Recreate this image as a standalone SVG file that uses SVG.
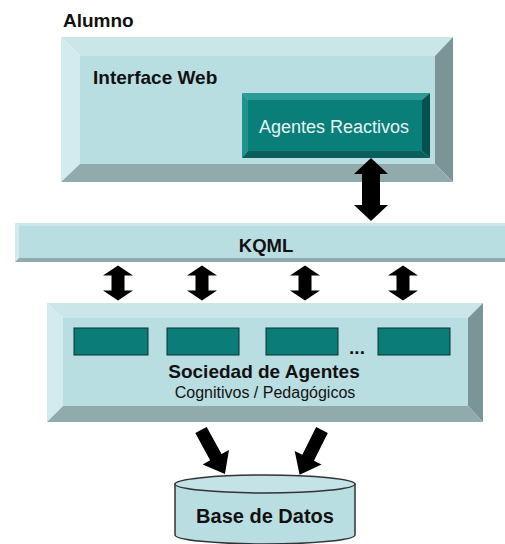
<svg xmlns="http://www.w3.org/2000/svg" xmlns:xlink="http://www.w3.org/1999/xlink" width="505" height="544" viewBox="0 0 505 544">
  <style>
    .face { fill: #b9dee2; }
    .bev-top { fill: #cbe6e9; }
    .bev-left { fill: #d3ebee; }
    .bev-right { fill: #7a9497; }
    .bev-bottom { fill: #91aaac; }
    .t-face { fill: #0a7f7a; }
    .t-top { fill: #2a9b95; }
    .t-left { fill: #1f938e; }
    .t-right { fill: #06514e; }
    .t-bottom { fill: #0a5f5c; }
    .agent { fill: #0b7c77; stroke: #0a3331; stroke-width: 1; }
    .lbl { font-family: "Liberation Sans", Arial, sans-serif; fill: #111; }
    .b { font-weight: bold; }
    .arrow { fill: #000; }
  </style>
  <defs>
    <path id="dbl" d="M0,-17.5 L15,-7.5 L6.5,-7.5 L6.5,7.5 L15,7.5 L0,17.5 L-15,7.5 L-6.5,7.5 L-6.5,-7.5 L-15,-7.5 Z"/>
    <path id="single" d="M-6.5,0 L6.5,0 L6.5,31 L15,31 L0,50 L-15,31 L-6.5,31 Z"/>
  </defs>

  <text class="lbl b" x="63" y="27" font-size="19">Alumno</text>

  <!-- Web interface block -->
  <g id="interface-web">
    <rect class="face" x="80" y="56" width="355" height="108"/>
    <polygon class="bev-top" points="61,37 453,37 435,56 80,56"/>
    <polygon class="bev-left" points="61,37 80,56 80,164 61,182"/>
    <polygon class="bev-right" points="453,37 453,182 435,164 435,56"/>
    <polygon class="bev-bottom" points="61,182 453,182 435,164 80,164"/>
    <text class="lbl b" x="93" y="84" font-size="19">Interface Web</text>
  </g>

  <g id="agentes-reactivos">
    <rect class="t-face" x="248" y="100" width="174" height="51"/>
    <polygon class="t-top" points="242,93 430,93 422,100 248,100"/>
    <polygon class="t-left" points="242,93 248,100 248,151 242,158"/>
    <polygon class="t-right" points="430,93 430,158 422,151 422,100"/>
    <polygon class="t-bottom" points="242,158 430,158 422,151 248,151"/>
    <text x="334" y="133" font-size="18" text-anchor="middle" font-family="Liberation Sans, Arial, sans-serif" fill="#e4f3f2">Agentes Reactivos</text>
  </g>

  <!-- KQML bus -->
  <g id="kqml">
    <rect class="face" x="19" y="226" width="486" height="32"/>
    <polygon class="bev-top" points="15,223 505,223 505,226 19,226"/>
    <polygon class="bev-left" points="15,223 19,226 19,258 15,262"/>
    <polygon class="bev-bottom" points="15,262 505,262 505,258 19,258"/>
    <text class="lbl b" x="266" y="252" font-size="18.5" text-anchor="middle">KQML</text>
  </g>

  <!-- Agent society block -->
  <g id="sociedad-agentes">
    <rect class="face" x="63" y="318" width="405" height="88"/>
    <polygon class="bev-top" points="47,303 483,303 468,318 63,318"/>
    <polygon class="bev-left" points="47,303 63,318 63,406 47,422"/>
    <polygon class="bev-right" points="483,303 483,422 468,406 468,318"/>
    <polygon class="bev-bottom" points="47,422 483,422 468,406 63,406"/>
    <rect class="agent" x="74" y="328" width="74" height="27"/>
    <rect class="agent" x="167" y="328" width="72" height="27"/>
    <rect class="agent" x="266" y="328" width="72" height="27"/>
    <rect class="agent" x="378" y="328" width="72" height="27"/>
    <text class="lbl b" x="357" y="354" font-size="19" text-anchor="middle">...</text>
    <text class="lbl b" x="264" y="378" font-size="19" text-anchor="middle">Sociedad de Agentes</text>
    <text class="lbl" x="265" y="398" font-size="16" text-anchor="middle">Cognitivos / Pedagógicos</text>
  </g>

  <!-- Database -->
  <g id="base-datos">
    <path d="M175,484 L175,535 A90,9 0 0 0 355,535 L355,484 Z" fill="#b9dee2" stroke="#333" stroke-width="1.5"/>
    <ellipse cx="265" cy="484" rx="90" ry="9" fill="#c4e3e7" stroke="#333" stroke-width="1.5"/>
    <text class="lbl b" x="265" y="523" font-size="20" text-anchor="middle">Base de Datos</text>
  </g>

  <!-- Connectors -->
  <g id="connectors" class="arrow">
    <path d="M371,158 L388,174 L380,174 L380,205 L388,205 L371,221 L354,205 L362,205 L362,174 L354,174 Z"/>
    <use xlink:href="#dbl" href="#dbl" x="118" y="283"/>
    <use xlink:href="#dbl" href="#dbl" x="202" y="283"/>
    <use xlink:href="#dbl" href="#dbl" x="305" y="283"/>
    <use xlink:href="#dbl" href="#dbl" x="403" y="283"/>
    <use xlink:href="#single" href="#single" transform="translate(201,430) rotate(-28.6)"/>
    <use xlink:href="#single" href="#single" transform="translate(322,430) rotate(26.6)"/>
  </g>
</svg>
